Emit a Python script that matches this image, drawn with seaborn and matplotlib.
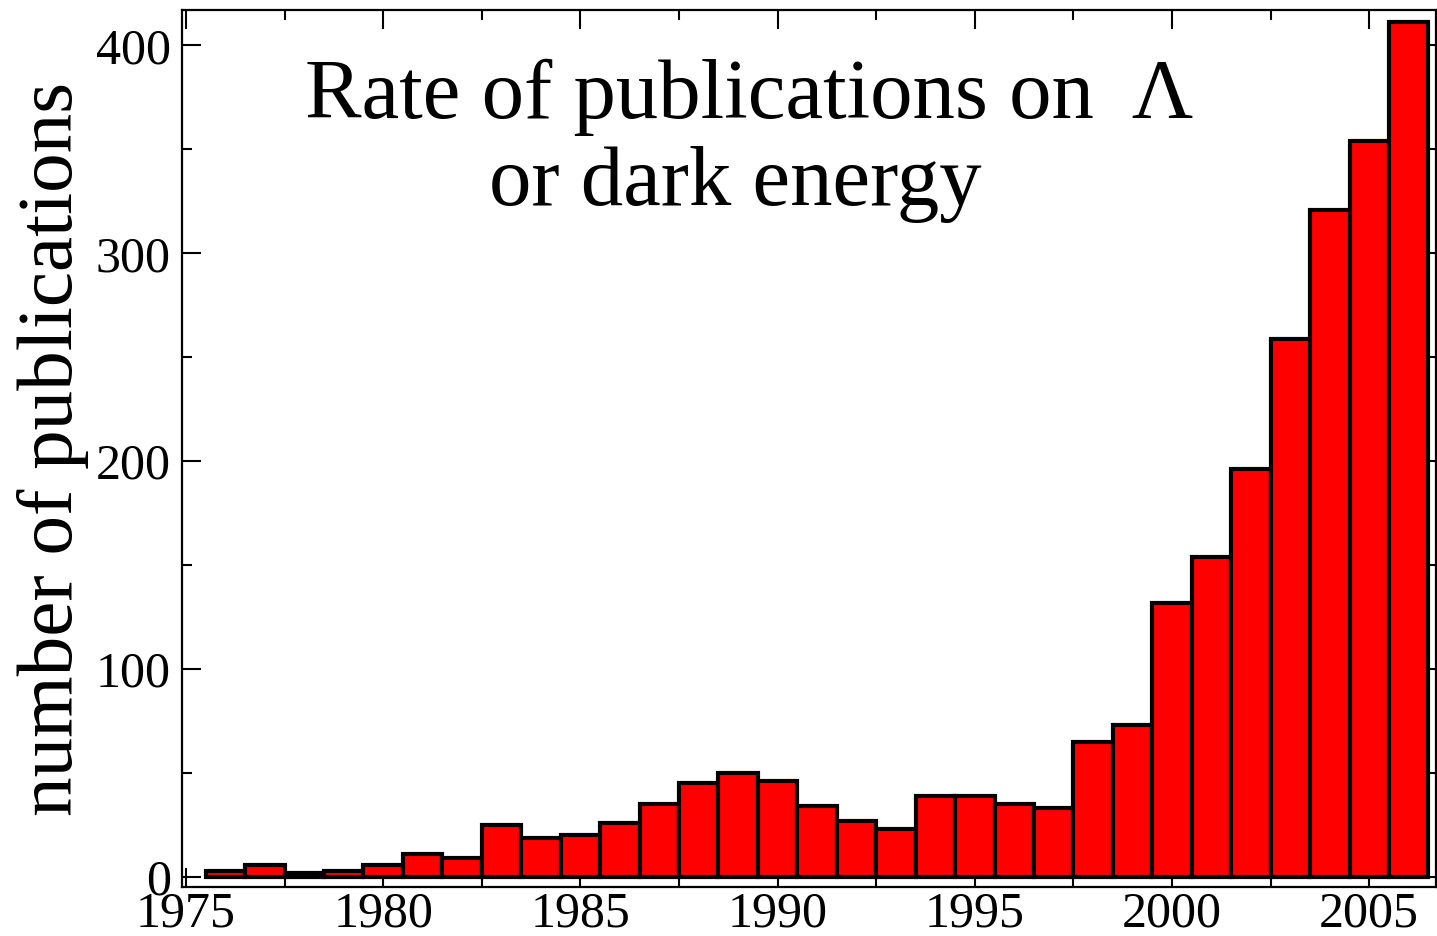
import matplotlib
matplotlib.use("Agg")
import matplotlib.pyplot as plt
from matplotlib.ticker import MultipleLocator
import seaborn as sns
import pandas as pd

years = [1976, 1977, 1978, 1979, 1980, 1981, 1982, 1983, 1984, 1985,
         1986, 1987, 1988, 1989, 1990, 1991, 1992, 1993, 1994, 1995,
         1996, 1997, 1998, 1999, 2000, 2001, 2002, 2003, 2004, 2005, 2006]
counts = [3, 6, 2, 3, 6, 11, 9, 25, 19, 20,
          26, 35, 45, 50, 46, 34, 27, 23, 39, 39,
          35, 33, 65, 73, 132, 154, 196, 259, 321, 354, 411]
title_line1 = "Rate of publications on  Λ"
title_line2 = "or dark energy"
ylabel = "number of publications"

df = pd.DataFrame({"year": years, "count": counts})

sns.set_style("white")
plt.rcParams["font.family"] = ["Liberation Serif", "DejaVu Serif"]
plt.rcParams["text.color"] = "black"
plt.rcParams["axes.labelcolor"] = "black"
plt.rcParams["xtick.color"] = "black"
plt.rcParams["ytick.color"] = "black"

fig = plt.figure(figsize=(14.37, 9.36), dpi=100)
ax = fig.add_axes([182 / 1437, 1 - 887 / 936, 1 - 182 / 1437 - 0.0005, (887 - 10) / 936])

sns.histplot(data=df, x="year", weights="count", discrete=True, ax=ax,
             color="#ff0000", alpha=1.0, edgecolor="black", linewidth=3.0)

ax.set_xlim(1974.9, 2006.7)
ax.set_ylim(-4.8, 417)
ax.xaxis.set_major_locator(MultipleLocator(5))
ax.xaxis.set_minor_locator(MultipleLocator(2.5))
ax.yaxis.set_major_locator(MultipleLocator(100))
ax.yaxis.set_minor_locator(MultipleLocator(50))
ax.tick_params(which="both", direction="in", top=True, right=True,
               bottom=True, left=True, width=1.5, color="black",
               labelcolor="black")
ax.tick_params(which="major", length=14, labelsize=36)
ax.tick_params(axis="x", which="major", pad=3)
ax.tick_params(axis="y", which="major", pad=8)
ax.tick_params(which="minor", length=7)
for s in ax.spines.values():
    s.set_linewidth(1.6)
    s.set_color("black")
    s.set_visible(True)

ax.set_xlabel("")
ax.set_ylabel(ylabel, fontsize=57, color="black")
ax.yaxis.set_label_coords(-0.074, 0.5)

fig.text(749 / 1437, 1 - 118 / 936, title_line1, fontsize=61, ha="center",
         va="baseline", color="black")
fig.text(735 / 1437, 1 - 205 / 936, title_line2, fontsize=61, ha="center",
         va="baseline", color="black")

fig.savefig("out.png", dpi=100)
